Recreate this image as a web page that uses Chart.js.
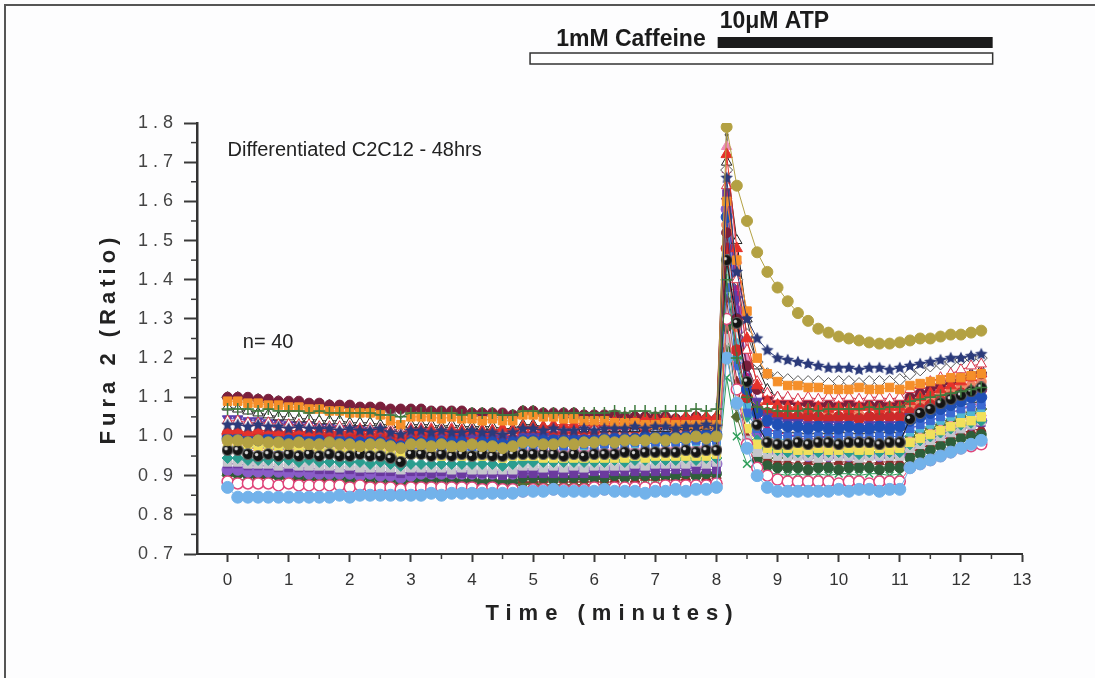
<!DOCTYPE html>
<html>
<head>
<meta charset="utf-8">
<title>Fura 2 ratio - differentiated C2C12</title>
<script src="https://cdn.jsdelivr.net/npm/chart.js@4/dist/chart.umd.min.js"></script>
<style>
  html, body { margin: 0; padding: 0; background: #fdfdfe; }
  canvas { display: block; }
</style>
</head>
<body>
<canvas id="fura" width="1095" height="678"></canvas>
<script>
// one sample every 10 s, time axis in minutes
const SAMPLE_MIN = 10 / 60;

const X_TICKS = [0, 1, 2, 3, 4, 5, 6, 7, 8, 9, 10, 11, 12, 13];
const Y_TICKS = [0.7, 0.8, 0.9, 1.0, 1.1, 1.2, 1.3, 1.4, 1.5, 1.6, 1.7, 1.8];

// drug application bars (minutes)
const caffeinePeriod = [4.95, 12.52];
const atpPeriod = [8.02, 12.52];

// single-cell traces, Fura 2 ratio per sample
const goldCircles = [
  0.99,0.99,0.985,0.99,0.985,0.985,0.98,0.985,0.98,0.98,0.985,0.98,0.98,0.975,0.98,0.98,0.975,0.97,0.98,0.98,0.975,0.98,0.975,0.975,0.98,0.975,0.975,0.97,0.975,
  0.985,0.985,0.98,0.98,0.985,0.98,0.985,0.985,0.99,0.985,0.99,0.99,0.99,0.995,0.99,0.995,0.995,1.0,0.995,1.0,
  1.79,1.64,1.55,1.47,1.42,1.38,1.345,1.315,1.295,1.275,1.265,1.255,1.25,1.245,1.24,1.237,1.237,1.24,
  1.245,1.25,1.25,1.255,1.26,1.26,1.265,1.27
];
const navyStars = [
  1.03,1.03,1.025,1.03,1.025,1.025,1.02,1.025,1.02,1.02,1.02,1.015,1.02,1.015,1.015,1.02,1.01,1.005,1.015,1.015,1.01,1.015,1.01,1.01,1.015,1.01,1.01,1.005,1.01,
  1.02,1.02,1.015,1.02,1.015,1.015,1.02,1.015,1.02,1.02,1.02,1.025,1.02,1.025,1.025,1.02,1.025,1.025,1.03,1.025,
  1.66,1.42,1.30,1.25,1.22,1.20,1.195,1.19,1.185,1.18,1.175,1.175,1.175,1.17,1.175,1.175,1.17,1.175,
  1.18,1.185,1.19,1.195,1.20,1.20,1.205,1.21
];
const greenCrosses = [
  1.07,1.07,1.07,1.065,1.07,1.065,1.065,1.065,1.06,1.065,1.06,1.06,1.06,1.06,1.06,1.055,1.055,1.05,1.06,1.06,1.06,1.06,1.06,1.055,1.06,1.06,1.06,1.055,1.055,
  1.065,1.065,1.06,1.06,1.06,1.06,1.06,1.06,1.06,1.065,1.06,1.065,1.065,1.06,1.065,1.065,1.065,1.07,1.065,1.07,
  1.40,1.20,1.10,1.075,1.07,1.065,1.065,1.065,1.07,1.065,1.07,1.07,1.07,1.07,1.075,1.07,1.075,1.075,
  1.09,1.095,1.10,1.105,1.11,1.115,1.12,1.125
];
const orangeSquares = [
  1.09,1.09,1.085,1.085,1.08,1.08,1.075,1.075,1.07,1.07,1.065,1.065,1.06,1.06,1.06,1.055,1.04,1.03,1.05,1.05,1.05,1.045,1.05,1.045,1.045,1.04,1.045,1.04,1.04,
  1.055,1.055,1.05,1.05,1.045,1.045,1.04,1.04,1.04,1.035,1.035,1.035,1.03,1.03,1.035,1.03,1.03,1.03,1.03,1.03,
  1.60,1.45,1.32,1.20,1.16,1.14,1.13,1.13,1.125,1.125,1.12,1.12,1.12,1.125,1.12,1.12,1.125,1.12,
  1.13,1.135,1.14,1.145,1.15,1.15,1.155,1.16
];
const blackCircles = [
  0.965,0.965,0.955,0.95,0.955,0.95,0.955,0.95,0.955,0.95,0.955,0.95,0.95,0.955,0.95,0.95,0.945,0.935,0.955,0.955,0.95,0.955,0.95,0.955,0.95,0.955,0.95,0.95,0.955,
  0.955,0.955,0.955,0.955,0.95,0.955,0.95,0.955,0.955,0.955,0.96,0.955,0.96,0.96,0.96,0.96,0.965,0.96,0.965,0.965,
  1.45,1.29,1.14,1.03,0.985,0.98,0.98,0.985,0.98,0.985,0.985,0.98,0.985,0.985,0.985,0.98,0.985,0.985,
  1.045,1.06,1.07,1.085,1.095,1.105,1.115,1.125
];
const skyCircles = [
  0.87,0.845,0.845,0.845,0.845,0.845,0.845,0.845,0.845,0.845,0.845,0.85,0.845,0.85,0.85,0.85,0.85,0.85,0.85,0.85,0.855,0.85,0.855,0.855,0.855,0.855,0.855,0.855,0.855,
  0.86,0.86,0.86,0.865,0.86,0.86,0.86,0.86,0.865,0.86,0.86,0.86,0.855,0.86,0.86,0.865,0.86,0.865,0.865,0.87,
  1.20,1.085,0.97,0.90,0.87,0.86,0.86,0.86,0.86,0.86,0.86,0.865,0.86,0.865,0.865,0.86,0.865,0.865,
  0.92,0.93,0.94,0.95,0.96,0.97,0.98,0.99
];
const redTriangles = [
  1.015,1.015,1.01,1.015,1.015,1.01,1.015,1.015,1.01,1.015,1.015,1.01,1.015,1.015,1.01,1.015,1.01,1.0,1.015,1.015,1.015,1.015,1.015,1.015,1.015,1.015,1.015,1.02,1.015,
  1.025,1.025,1.025,1.03,1.03,1.03,1.035,1.035,1.035,1.04,1.04,1.04,1.045,1.045,1.045,1.045,1.05,1.05,1.05,1.05,
  1.72,1.48,1.25,1.13,1.09,1.08,1.075,1.075,1.07,1.075,1.07,1.075,1.07,1.075,1.075,1.07,1.075,1.075,
  1.09,1.10,1.11,1.12,1.13,1.14,1.15,1.16
];
const redOpenTriangles = [
  1.04,1.04,1.035,1.035,1.035,1.03,1.03,1.03,1.03,1.025,1.025,1.025,1.025,1.02,1.02,1.02,1.02,1.01,1.02,1.02,1.02,1.015,1.02,1.015,1.015,1.015,1.015,1.015,1.01,
  1.02,1.02,1.02,1.02,1.02,1.02,1.025,1.02,1.025,1.025,1.025,1.03,1.025,1.03,1.03,1.03,1.035,1.03,1.035,1.035,
  1.64,1.40,1.22,1.14,1.11,1.10,1.10,1.095,1.10,1.095,1.10,1.095,1.10,1.095,1.10,1.10,1.095,1.10,
  1.12,1.13,1.14,1.15,1.16,1.17,1.18,1.185
];
const maroonDots = [
  1.10,1.10,1.10,1.095,1.095,1.09,1.09,1.09,1.085,1.085,1.08,1.08,1.08,1.075,1.075,1.075,1.07,1.07,1.07,1.07,1.065,1.065,1.065,1.065,1.06,1.06,1.06,1.06,1.055,
  1.065,1.065,1.06,1.06,1.06,1.06,1.055,1.055,1.055,1.055,1.05,1.05,1.05,1.05,1.05,1.045,1.045,1.05,1.045,1.045,
  1.52,1.30,1.18,1.12,1.10,1.09,1.09,1.085,1.085,1.08,1.08,1.08,1.085,1.08,1.08,1.08,1.085,1.085,
  1.10,1.11,1.12,1.13,1.14,1.15,1.155,1.16
];
const openDiamonds = [
  1.10,1.10,1.095,1.095,1.09,1.09,1.085,1.085,1.08,1.08,1.08,1.075,1.075,1.07,1.07,1.07,1.065,1.06,1.065,1.065,1.06,1.06,1.06,1.06,1.055,1.055,1.055,1.05,1.05,
  1.06,1.06,1.055,1.055,1.055,1.05,1.05,1.05,1.05,1.045,1.045,1.045,1.045,1.04,1.04,1.04,1.04,1.04,1.04,1.04,
  1.68,1.40,1.26,1.19,1.16,1.15,1.145,1.14,1.14,1.14,1.135,1.14,1.14,1.135,1.14,1.14,1.14,1.145,
  1.16,1.17,1.18,1.185,1.19,1.195,1.20,1.20
];
const openTriangles = [
  1.075,1.07,1.065,1.06,1.055,1.05,1.05,1.045,1.045,1.04,1.04,1.04,1.035,1.035,1.035,1.03,1.03,1.02,1.03,1.03,1.03,1.025,1.03,1.025,1.025,1.025,1.025,1.02,1.02,
  1.03,1.03,1.025,1.025,1.025,1.02,1.02,1.02,1.02,1.02,1.02,1.02,1.025,1.02,1.02,1.025,1.025,1.025,1.025,1.03,
  1.70,1.50,1.30,1.18,1.12,1.10,1.09,1.09,1.085,1.085,1.085,1.08,1.085,1.08,1.08,1.085,1.085,1.085,
  1.10,1.11,1.12,1.13,1.14,1.15,1.16,1.17
];
const blueCircles = [
  0.995,0.995,0.995,0.99,0.995,0.99,0.99,0.99,0.99,0.99,0.985,0.99,0.985,0.985,0.985,0.985,0.98,0.975,0.985,0.985,0.985,0.985,0.985,0.985,0.98,0.985,0.985,0.98,0.985,
  0.99,0.99,0.99,0.99,0.99,0.99,0.99,0.99,0.995,0.995,0.995,0.995,1.0,1.0,1.0,1.0,1.0,1.005,1.005,1.005,
  1.56,1.30,1.12,1.06,1.04,1.03,1.025,1.025,1.02,1.025,1.02,1.02,1.025,1.02,1.02,1.025,1.02,1.025,
  1.04,1.05,1.06,1.07,1.08,1.09,1.10,1.10
];
const pinkRings = [
  0.885,0.88,0.88,0.88,0.88,0.875,0.88,0.875,0.875,0.875,0.875,0.875,0.87,0.875,0.87,0.87,0.87,0.865,0.87,0.87,0.87,0.87,0.87,0.87,0.87,0.865,0.87,0.865,0.865,
  0.86,0.865,0.865,0.865,0.865,0.865,0.865,0.87,0.865,0.87,0.87,0.87,0.87,0.87,0.875,0.875,0.875,0.875,0.875,0.88,
  1.30,1.12,0.98,0.92,0.90,0.89,0.885,0.885,0.885,0.885,0.885,0.88,0.885,0.885,0.88,0.885,0.885,0.885,
  0.92,0.93,0.94,0.95,0.96,0.97,0.975,0.98
];
const yellowSquares = [
  0.985,0.98,0.98,0.975,0.975,0.975,0.97,0.97,0.97,0.965,0.965,0.965,0.96,0.96,0.96,0.96,0.955,0.95,0.955,0.955,0.955,0.95,0.955,0.95,0.95,0.95,0.95,0.945,0.95,
  0.95,0.95,0.945,0.945,0.945,0.945,0.945,0.945,0.945,0.945,0.945,0.95,0.945,0.95,0.95,0.95,0.95,0.95,0.95,0.955,
  1.30,1.12,1.02,0.98,0.97,0.97,0.97,0.965,0.965,0.97,0.965,0.965,0.97,0.965,0.965,0.97,0.965,0.97,
  0.985,0.995,1.005,1.015,1.025,1.035,1.04,1.05
];
const violetTriangles = [
  1.045,1.045,1.04,1.04,1.035,1.035,1.03,1.03,1.03,1.025,1.025,1.02,1.02,1.02,1.015,1.015,1.01,1.0,1.01,1.01,1.005,1.005,1.005,1.0,1.0,1.0,1.0,0.995,0.995,
  1.0,1.0,1.0,0.995,0.995,0.995,0.995,0.995,0.99,0.995,0.99,0.995,0.995,0.995,0.995,1.0,1.0,1.0,1.0,1.005,
  1.60,1.35,1.18,1.09,1.05,1.04,1.035,1.035,1.03,1.03,1.03,1.03,1.03,1.025,1.03,1.03,1.03,1.03,
  1.05,1.06,1.07,1.08,1.09,1.10,1.105,1.11
];
const redCircles = [
  1.005,1.005,1.0,1.005,1.0,1.005,1.0,1.0,1.005,1.0,1.0,1.005,1.0,1.0,1.0,1.0,0.995,0.99,1.0,1.0,1.0,1.0,1.0,1.0,1.0,1.0,1.0,1.0,1.0,
  1.01,1.01,1.01,1.01,1.015,1.015,1.015,1.015,1.02,1.02,1.02,1.02,1.02,1.025,1.025,1.025,1.025,1.025,1.03,1.03,
  1.48,1.22,1.10,1.07,1.06,1.055,1.05,1.05,1.05,1.05,1.045,1.05,1.05,1.045,1.05,1.05,1.05,1.05,
  1.06,1.07,1.08,1.09,1.10,1.11,1.115,1.12
];
const salmonCircles = [
  1.01,1.01,1.005,1.01,1.005,1.005,1.005,1.005,1.0,1.005,1.0,1.0,1.0,1.0,1.0,0.995,0.995,0.99,1.0,1.0,0.995,1.0,0.995,0.995,0.995,0.995,0.995,0.99,0.995,
  1.0,1.0,1.0,1.0,1.0,1.005,1.0,1.005,1.005,1.005,1.005,1.01,1.005,1.01,1.01,1.01,1.01,1.015,1.01,1.015,
  1.54,1.28,1.13,1.08,1.06,1.055,1.055,1.05,1.055,1.05,1.055,1.05,1.055,1.055,1.05,1.055,1.055,1.055,
  1.075,1.085,1.095,1.105,1.115,1.125,1.13,1.14
];
const blueSquares = [
  0.985,0.985,0.98,0.985,0.98,0.98,0.98,0.975,0.98,0.975,0.975,0.975,0.975,0.97,0.975,0.97,0.97,0.965,0.97,0.97,0.97,0.97,0.97,0.965,0.97,0.97,0.965,0.965,0.97,
  0.98,0.975,0.975,0.975,0.975,0.975,0.98,0.975,0.98,0.98,0.98,0.985,0.98,0.985,0.985,0.985,0.985,0.99,0.985,0.99,
  1.38,1.18,1.06,1.02,1.01,1.005,1.0,1.0,1.0,1.0,0.995,1.0,1.0,0.995,1.0,1.0,1.0,1.0,
  1.02,1.03,1.04,1.05,1.06,1.07,1.075,1.08
];
const cyanSquares = [
  0.975,0.975,0.97,0.975,0.97,0.97,0.97,0.97,0.965,0.97,0.965,0.965,0.965,0.965,0.965,0.96,0.96,0.955,0.965,0.965,0.965,0.965,0.965,0.965,0.96,0.965,0.965,0.96,0.965,
  0.975,0.975,0.975,0.975,0.975,0.98,0.975,0.98,0.98,0.98,0.98,0.98,0.985,0.98,0.985,0.985,0.985,0.985,0.99,0.985,
  1.50,1.24,1.08,1.02,1.0,0.995,0.99,0.99,0.99,0.99,0.985,0.99,0.99,0.99,0.985,0.99,0.99,0.99,
  1.01,1.02,1.03,1.04,1.05,1.055,1.06,1.065
];
const pinkTriangles = [
  0.99,0.985,0.985,0.985,0.98,0.985,0.98,0.98,0.98,0.975,0.98,0.975,0.975,0.975,0.97,0.975,0.97,0.965,0.97,0.97,0.97,0.97,0.965,0.97,0.965,0.965,0.965,0.965,0.965,
  0.97,0.97,0.97,0.97,0.965,0.97,0.97,0.97,0.965,0.97,0.97,0.97,0.97,0.97,0.97,0.975,0.97,0.975,0.975,0.975,
  1.74,1.45,1.20,1.06,1.00,0.985,0.98,0.975,0.975,0.975,0.97,0.975,0.975,0.97,0.975,0.975,0.97,0.975,
  0.99,1.0,1.01,1.02,1.03,1.04,1.05,1.06
];
const magentaTriangles = [
  0.975,0.97,0.97,0.97,0.97,0.965,0.97,0.965,0.965,0.965,0.965,0.96,0.965,0.96,0.96,0.96,0.96,0.955,0.96,0.96,0.96,0.96,0.96,0.96,0.955,0.96,0.955,0.955,0.955,
  0.965,0.965,0.96,0.965,0.96,0.965,0.96,0.965,0.96,0.965,0.965,0.965,0.965,0.965,0.965,0.97,0.965,0.97,0.97,0.97,
  1.68,1.38,1.15,1.05,1.02,1.01,1.005,1.0,1.0,1.0,1.0,1.0,1.0,0.995,1.0,1.0,1.0,1.0,
  1.02,1.03,1.04,1.05,1.06,1.07,1.08,1.085
];
const tealDiamonds = [
  0.945,0.945,0.94,0.94,0.94,0.94,0.94,0.935,0.94,0.935,0.935,0.935,0.935,0.935,0.93,0.935,0.93,0.925,0.93,0.93,0.93,0.93,0.93,0.93,0.93,0.93,0.93,0.925,0.93,
  0.935,0.935,0.935,0.935,0.935,0.935,0.935,0.935,0.935,0.94,0.935,0.94,0.94,0.94,0.94,0.94,0.945,0.94,0.945,0.945,
  1.45,1.20,1.05,0.99,0.97,0.965,0.96,0.96,0.96,0.96,0.96,0.96,0.96,0.955,0.96,0.96,0.96,0.96,
  0.98,0.99,1.0,1.01,1.02,1.03,1.035,1.04
];
const greySquares = [
  0.935,0.935,0.93,0.93,0.93,0.925,0.93,0.925,0.925,0.925,0.925,0.92,0.925,0.92,0.92,0.92,0.92,0.915,0.92,0.92,0.92,0.92,0.915,0.92,0.915,0.915,0.915,0.915,0.915,
  0.925,0.925,0.92,0.925,0.92,0.925,0.92,0.925,0.925,0.925,0.925,0.93,0.925,0.93,0.93,0.93,0.93,0.935,0.93,0.935,
  1.25,1.08,0.99,0.96,0.955,0.95,0.95,0.95,0.95,0.945,0.95,0.95,0.95,0.945,0.95,0.95,0.95,0.95,
  0.97,0.98,0.99,1.0,1.01,1.02,1.03,1.04
];
const purpleSquares = [
  0.93,0.93,0.925,0.925,0.925,0.92,0.92,0.92,0.92,0.915,0.915,0.915,0.915,0.91,0.915,0.91,0.91,0.905,0.91,0.91,0.905,0.91,0.905,0.905,0.905,0.905,0.905,0.9,0.905,
  0.905,0.905,0.905,0.905,0.905,0.905,0.905,0.91,0.905,0.91,0.91,0.91,0.91,0.91,0.91,0.915,0.91,0.915,0.915,0.915,
  1.62,1.36,1.15,1.02,0.975,0.965,0.96,0.96,0.96,0.955,0.96,0.96,0.955,0.96,0.96,0.96,0.955,0.96,
  0.98,0.99,1.0,1.01,1.02,1.025,1.03,1.035
];
const lilacCircles = [
  0.915,0.915,0.91,0.91,0.91,0.91,0.905,0.91,0.905,0.905,0.905,0.905,0.905,0.9,0.905,0.9,0.9,0.895,0.9,0.905,0.905,0.905,0.905,0.905,0.905,0.905,0.905,0.905,0.905,
  0.91,0.91,0.91,0.91,0.915,0.915,0.915,0.915,0.915,0.92,0.92,0.92,0.92,0.92,0.925,0.925,0.925,0.925,0.93,0.93,
  1.58,1.32,1.12,1.01,0.97,0.96,0.955,0.955,0.95,0.955,0.95,0.955,0.95,0.95,0.955,0.95,0.955,0.955,
  0.975,0.985,0.995,1.005,1.015,1.025,1.03,1.04
];
const darkGreenCircles = [
  0.905,0.905,0.9,0.905,0.9,0.9,0.9,0.9,0.895,0.9,0.895,0.895,0.895,0.895,0.895,0.89,0.89,0.885,0.89,0.89,0.89,0.89,0.89,0.885,0.89,0.885,0.885,0.885,0.885,
  0.895,0.895,0.895,0.89,0.895,0.895,0.895,0.895,0.895,0.9,0.895,0.9,0.9,0.9,0.9,0.9,0.905,0.9,0.905,0.905,
  1.28,1.08,0.98,0.94,0.925,0.92,0.92,0.92,0.915,0.92,0.92,0.915,0.92,0.92,0.92,0.915,0.92,0.92,
  0.945,0.955,0.965,0.975,0.985,0.995,1.0,1.005
];
const brownTriangles = [
  0.91,0.905,0.905,0.9,0.9,0.9,0.9,0.895,0.9,0.895,0.895,0.895,0.895,0.895,0.89,0.895,0.89,0.885,0.89,0.89,0.89,0.89,0.89,0.89,0.89,0.885,0.89,0.885,0.885,
  0.89,0.89,0.89,0.89,0.89,0.89,0.89,0.89,0.89,0.89,0.895,0.89,0.895,0.895,0.895,0.895,0.895,0.9,0.895,0.9,
  1.35,1.14,1.0,0.95,0.94,0.935,0.935,0.93,0.935,0.935,0.93,0.935,0.935,0.935,0.93,0.935,0.935,0.935,
  0.96,0.97,0.98,0.99,1.0,1.01,1.015,1.02
];
const oliveDiamonds = [
  0.9,0.9,0.9,0.895,0.895,0.895,0.89,0.89,0.89,0.89,0.885,0.885,0.885,0.885,0.88,0.88,0.88,0.875,0.88,0.88,0.88,0.875,0.88,0.875,0.875,0.875,0.875,0.875,0.87,
  0.88,0.88,0.875,0.875,0.875,0.875,0.875,0.875,0.875,0.875,0.875,0.875,0.875,0.875,0.875,0.88,0.875,0.88,0.88,0.88,
  1.22,1.05,0.97,0.95,0.945,0.945,0.945,0.95,0.945,0.95,0.945,0.95,0.95,0.945,0.95,0.95,0.945,0.95,
  1.0,1.01,1.02,1.03,1.04,1.05,1.06,1.07
];
const greenX = [
  0.895,0.89,0.89,0.89,0.885,0.885,0.885,0.885,0.88,0.885,0.88,0.88,0.88,0.88,0.875,0.88,0.875,0.87,0.875,0.875,0.875,0.875,0.875,0.875,0.87,0.875,0.87,0.87,0.87,
  0.88,0.875,0.875,0.875,0.875,0.875,0.875,0.87,0.875,0.87,0.875,0.875,0.875,0.875,0.875,0.875,0.875,0.88,0.875,0.88,
  1.15,1.0,0.93,0.91,0.905,0.905,0.9,0.905,0.9,0.905,0.9,0.905,0.905,0.9,0.905,0.905,0.9,0.905,
  0.93,0.94,0.95,0.96,0.97,0.98,0.985,0.99
];
const darkLine = [
  1.0,1.0,0.995,1.0,0.995,0.995,0.995,0.99,0.995,0.99,0.99,0.99,0.99,0.99,0.985,0.99,0.985,0.98,0.985,0.985,0.985,0.985,0.985,0.985,0.985,0.98,0.985,0.98,0.98,
  0.99,0.99,0.99,0.985,0.99,0.99,0.99,0.99,0.99,0.99,0.995,0.99,0.995,0.995,0.995,0.995,1.0,0.995,1.0,1.0,
  1.77,1.30,1.10,1.04,1.02,1.01,1.01,1.01,1.005,1.01,1.005,1.01,1.01,1.005,1.01,1.01,1.01,1.01,
  1.03,1.04,1.05,1.06,1.07,1.08,1.085,1.09
];

// filled five-point star marker
function starMarker(fill, size) {
  const c = document.createElement('canvas');
  c.width = c.height = size;
  const g = c.getContext('2d');
  const r = size / 2;
  g.beginPath();
  for (let k = 0; k < 10; k++) {
    const rad = k % 2 ? r * 0.45 : r - 0.5;
    const ang = -Math.PI / 2 + k * Math.PI / 5;
    g.lineTo(r + rad * Math.cos(ang), r + rad * Math.sin(ang));
  }
  g.closePath();
  g.fillStyle = fill;
  g.fill();
  return c;
}

// black bead with a small highlight
function beadMarker(size) {
  const c = document.createElement('canvas');
  c.width = c.height = size;
  const g = c.getContext('2d');
  const r = size / 2;
  g.beginPath(); g.arc(r, r, r - 0.5, 0, Math.PI * 2);
  g.fillStyle = '#141414'; g.fill();
  g.strokeStyle = '#6a6a6a'; g.lineWidth = 1; g.stroke();
  g.beginPath(); g.arc(r - 1.5, r - 1.5, 1.7, 0, Math.PI * 2);
  g.fillStyle = '#d8d8d8'; g.fill();
  return c;
}

function trace(label, values, color, style, radius, extra) {
  return Object.assign({
    label: label,
    data: values.map((v, i) => ({ x: i * SAMPLE_MIN, y: v })),
    borderColor: color,
    backgroundColor: color,
    borderWidth: 1,
    pointStyle: style,
    pointRadius: radius,
    pointBackgroundColor: color,
    pointBorderColor: color,
    pointBorderWidth: 1
  }, extra || {});
}

// first dataset is drawn on top
const datasets = [
  trace('gold', goldCircles, '#b3a143', 'circle', 5.5),
  trace('navy', navyStars, '#2b3a7a', starMarker('#2b3a7a', 14), 7),
  trace('green +', greenCrosses, '#3f7a3f', 'cross', 6, { pointBorderWidth: 1.5 }),
  trace('orange', orangeSquares, '#f58f2a', 'rect', 6),
  trace('black', blackCircles, '#151515', beadMarker(12), 6),
  trace('sky', skyCircles, '#72b2ea', 'circle', 6),
  trace('red tri', redTriangles, '#e5322b', 'triangle', 6.5),
  trace('red open tri', redOpenTriangles, '#d8344a', 'triangle', 6, { pointBackgroundColor: '#ffffff' }),
  trace('maroon', maroonDots, '#7a1f3c', 'circle', 5),
  trace('open diamond', openDiamonds, '#5a5a5a', 'rectRot', 6, { pointBackgroundColor: '#ffffff' }),
  trace('open tri', openTriangles, '#222222', 'triangle', 6, { pointBackgroundColor: '#ffffff' }),
  trace('blue', blueCircles, '#1f4fb5', 'circle', 5.5),
  trace('pink rings', pinkRings, '#e0457a', 'circle', 5.5, { pointBackgroundColor: '#ffffff', pointBorderWidth: 1.5 }),
  trace('yellow', yellowSquares, '#f1e05c', 'rect', 6),
  trace('violet', violetTriangles, '#5a3fa8', 'triangle', 6, { pointRotation: 180 }),
  trace('red', redCircles, '#cc2a2a', 'circle', 5.5),
  trace('salmon', salmonCircles, '#ef8666', 'circle', 5),
  trace('blue sq', blueSquares, '#3b6ad2', 'rect', 5.5),
  trace('cyan', cyanSquares, '#52b7d2', 'rect', 5),
  trace('pink', pinkTriangles, '#ee8ab8', 'triangle', 6),
  trace('magenta', magentaTriangles, '#c2197c', 'triangle', 5),
  trace('teal', tealDiamonds, '#2a9d8f', 'rectRot', 5.5),
  trace('grey', greySquares, '#c6c6cc', 'rect', 6),
  trace('purple', purpleSquares, '#6b3a9e', 'rect', 5.5),
  trace('lilac', lilacCircles, '#8a5cc8', 'circle', 5.5),
  trace('dark green', darkGreenCircles, '#2e5e3a', 'circle', 5),
  trace('brown', brownTriangles, '#8e2b2b', 'triangle', 5.5),
  trace('olive', oliveDiamonds, '#556b2f', 'rectRot', 5.5),
  trace('green x', greenX, '#2f9e5a', 'crossRot', 5.5, { pointBorderWidth: 1.5 }),
  trace('dark', darkLine, '#4a4a4a', 'circle', 1.5, { borderWidth: 1.5 })
];

const FONT = 'Liberation Sans, Arial, sans-serif';

// minor ticks, axis titles, labels and drug bars
const annotate = {
  id: 'annotate',
  afterDraw(chart) {
    const { ctx, chartArea: a, scales: { x, y } } = chart;
    ctx.save();

    ctx.strokeStyle = '#3a3a3a';
    ctx.lineWidth = 1.5;
    for (let k = 0; k < Y_TICKS.length - 1; k++) {
      const py = y.getPixelForValue((Y_TICKS[k] + Y_TICKS[k + 1]) / 2);
      ctx.beginPath(); ctx.moveTo(a.left - 6, py); ctx.lineTo(a.left, py); ctx.stroke();
    }
    for (let k = 0; k < X_TICKS.length - 1; k++) {
      const px = x.getPixelForValue((X_TICKS[k] + X_TICKS[k + 1]) / 2);
      ctx.beginPath(); ctx.moveTo(px, a.bottom); ctx.lineTo(px, a.bottom + 5); ctx.stroke();
    }

    ctx.fillStyle = '#222';
    ctx.textBaseline = 'middle';
    ctx.textAlign = 'center';
    ctx.font = 'bold 22px ' + FONT;
    ctx.letterSpacing = '7px';
    ctx.fillText('Time (minutes)', (a.left + a.right) / 2 + 3, 614);

    ctx.save();
    ctx.translate(109, (a.top + a.bottom) / 2);
    ctx.rotate(-Math.PI / 2);
    ctx.letterSpacing = '5px';
    ctx.fillText('Fura 2 (Ratio)', 0, 0);
    ctx.restore();

    ctx.letterSpacing = '0px';
    ctx.textAlign = 'left';
    ctx.font = '20px ' + FONT;
    ctx.fillText('Differentiated C2C12 - 48hrs', x.getPixelForValue(0), y.getPixelForValue(1.73));
    ctx.fillText('n= 40', x.getPixelForValue(0.25), y.getPixelForValue(1.24));

    const atpL = x.getPixelForValue(atpPeriod[0]);
    const atpR = x.getPixelForValue(atpPeriod[1]);
    const cafL = x.getPixelForValue(caffeinePeriod[0]);
    const cafR = x.getPixelForValue(caffeinePeriod[1]);
    ctx.fillStyle = '#1b1b1b';
    ctx.fillRect(atpL, 37, atpR - atpL, 11);
    ctx.fillStyle = '#ffffff';
    ctx.fillRect(cafL, 53, cafR - cafL, 11);
    ctx.strokeStyle = '#333';
    ctx.lineWidth = 1.5;
    ctx.strokeRect(cafL, 53, cafR - cafL, 11);

    ctx.fillStyle = '#1b1b1b';
    ctx.font = 'bold 23px ' + FONT;
    ctx.textBaseline = 'alphabetic';
    ctx.fillText('10\u03bcM ATP', atpL + 2, 28);
    ctx.textAlign = 'right';
    ctx.fillText('1mM Caffeine', atpL - 12, 46);

    // page frame
    ctx.strokeStyle = '#555';
    ctx.lineWidth = 2;
    ctx.beginPath();
    ctx.moveTo(5, 678); ctx.lineTo(5, 5); ctx.lineTo(1095, 5);
    ctx.stroke();
    ctx.restore();
  }
};

new Chart(document.getElementById('fura'), {
  type: 'line',
  data: { datasets: datasets },
  options: {
    responsive: false,
    animation: false,
    devicePixelRatio: 1,
    events: [],
    layout: { padding: { top: 123, right: 73, bottom: 73, left: 97 } },
    elements: { line: { tension: 0 } },
    plugins: { legend: { display: false }, tooltip: { enabled: false } },
    scales: {
      x: {
        type: 'linear',
        min: -0.5,
        max: 13,
        afterBuildTicks: s => { s.ticks = X_TICKS.map(v => ({ value: v })); },
        afterFit: s => { s.height = 51; },
        ticks: { color: '#333', font: { size: 17, family: FONT }, padding: 8, maxRotation: 0, autoSkip: false },
        grid: { drawOnChartArea: false, drawTicks: true, tickLength: 8, tickWidth: 2, tickColor: '#3a3a3a' },
        border: { color: '#333', width: 2 }
      },
      y: {
        min: 0.7,
        max: 1.8,
        afterBuildTicks: s => { s.ticks = Y_TICKS.map(v => ({ value: v })); },
        afterFit: s => { s.width = 100; },
        ticks: {
          color: '#444',
          font: { size: 18, family: FONT },
          padding: 11,
          callback: v => v.toFixed(1).split('').join(' ')
        },
        grid: { drawOnChartArea: false, drawTicks: true, tickLength: 13, tickWidth: 2, tickColor: '#3a3a3a' },
        border: { color: '#333', width: 2.5 }
      }
    }
  },
  plugins: [annotate]
});
</script>
</body>
</html>
